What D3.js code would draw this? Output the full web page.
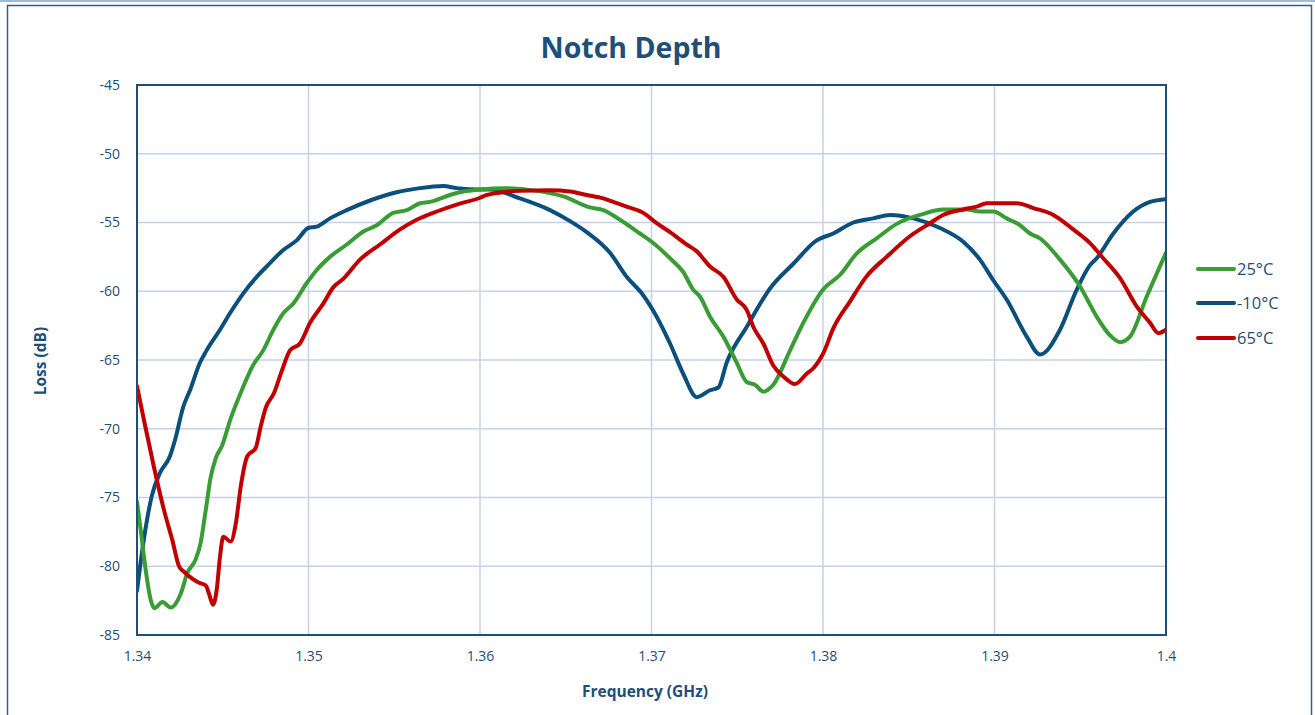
<!DOCTYPE html>
<html>
<head>
<meta charset="utf-8">
<script src="https://cdn.jsdelivr.net/npm/d3@7/dist/d3.min.js"></script>
<style>
  html, body { margin: 0; padding: 0; background: #fff; }
  svg { display: block; }
  text { font-family: "Open Sans", "Noto Sans", "DejaVu Sans", sans-serif; }
</style>
</head>
<body>
<svg id="chart" width="1315" height="715"></svg>
<script>
// ---------- data ----------
const xTicks = [1.34, 1.35, 1.36, 1.37, 1.38, 1.39, 1.4];
const xTickLabels = ["1.34", "1.35", "1.36", "1.37", "1.38", "1.39", "1.4"];
const yTicks = [-45, -50, -55, -60, -65, -70, -75, -80, -85];
const yTickLabels = ["-45", "-50", "-55", "-60", "-65", "-70", "-75", "-80", "-85"];
const seriesNames = ["25°C", "-10°C", "65°C"];
const seriesColors = ["#3a9c35", "#0b4f7c", "#c00000"];

const freq25 = [1.34, 1.34022, 1.34051, 1.3408, 1.34103, 1.34148, 1.34197, 1.34255, 1.34293, 1.34342, 1.34371, 1.34401, 1.3443, 1.34459, 1.34497, 1.34545, 1.34601, 1.34676, 1.34736, 1.34795, 1.34853, 1.34911, 1.3499, 1.35048, 1.35125, 1.35223, 1.3532, 1.35398, 1.35494, 1.35573, 1.3565, 1.35708, 1.35825, 1.35903, 1.36, 1.36136, 1.36331, 1.36486, 1.36641, 1.36719, 1.36816, 1.36933, 1.37001, 1.37108, 1.37185, 1.37244, 1.37283, 1.37341, 1.37419, 1.37497, 1.37555, 1.37603, 1.37652, 1.3771, 1.37808, 1.37885, 1.38002, 1.381, 1.38197, 1.38313, 1.3843, 1.38566, 1.38701, 1.38838, 1.38915, 1.38993, 1.39071, 1.39149, 1.39207, 1.39265, 1.39382, 1.39499, 1.39596, 1.39673, 1.39732, 1.3979, 1.39887, 1.4];
const loss25 = [-75.3, -77.4, -80.3, -82.45, -83.05, -82.6, -83.0, -82.0, -80.5, -79.5, -78.3, -75.9, -73.5, -72.15, -71.2, -69.3, -67.5, -65.4, -64.3, -62.8, -61.6, -60.9, -59.4, -58.45, -57.5, -56.6, -55.65, -55.2, -54.3, -54.1, -53.6, -53.5, -53.0, -52.75, -52.6, -52.5, -52.7, -53.1, -53.9, -54.1, -54.8, -55.8, -56.4, -57.6, -58.6, -59.9, -60.4, -61.85, -63.3, -65.2, -66.6, -66.8, -67.3, -66.8, -64.3, -62.3, -59.85, -58.8, -57.25, -56.15, -55.1, -54.45, -54.05, -54.05, -54.2, -54.2, -54.7, -55.2, -55.8, -56.15, -57.7, -59.65, -61.85, -63.2, -63.7, -63.3, -60.4, -57.2];

const freqM10 = [1.34, 1.34037, 1.34086, 1.34134, 1.34192, 1.34222, 1.3427, 1.34309, 1.34367, 1.34406, 1.34484, 1.34542, 1.3462, 1.34698, 1.34756, 1.34853, 1.34931, 1.34999, 1.35048, 1.35125, 1.35223, 1.35359, 1.35514, 1.3565, 1.35786, 1.35864, 1.36, 1.36058, 1.36233, 1.36408, 1.36525, 1.36622, 1.36758, 1.36855, 1.36943, 1.3703, 1.37108, 1.37185, 1.37264, 1.37341, 1.3739, 1.37438, 1.37555, 1.37691, 1.37827, 1.37963, 1.3806, 1.38177, 1.38293, 1.38391, 1.38527, 1.38682, 1.38818, 1.38915, 1.38993, 1.39071, 1.39188, 1.39265, 1.39382, 1.39479, 1.39557, 1.39596, 1.39693, 1.39809, 1.39907, 1.4];
const lossM10 = [-81.8, -78.3, -74.9, -73.2, -72.0, -70.8, -68.4, -67.2, -65.2, -64.3, -62.8, -61.6, -60.15, -58.95, -58.2, -57.0, -56.3, -55.4, -55.3, -54.7, -54.1, -53.4, -52.8, -52.5, -52.35, -52.5, -52.6, -52.6, -53.25, -54.1, -54.9, -55.7, -57.2, -58.95, -60.15, -61.85, -63.8, -66.0, -67.7, -67.2, -67.0, -65.2, -62.6, -59.8, -58.0, -56.3, -55.8, -55.0, -54.7, -54.45, -54.7, -55.4, -56.4, -57.7, -59.2, -60.6, -63.3, -64.6, -62.8, -59.9, -58.1, -57.6, -55.8, -54.2, -53.5, -53.3];

const freq65 = [1.34, 1.34041, 1.34099, 1.34157, 1.34206, 1.34245, 1.34274, 1.34322, 1.34362, 1.34401, 1.3442, 1.34443, 1.34465, 1.34484, 1.34503, 1.34546, 1.34576, 1.34605, 1.34643, 1.34692, 1.34721, 1.3475, 1.34799, 1.34847, 1.34892, 1.3495, 1.35009, 1.35086, 1.35145, 1.35203, 1.353, 1.35417, 1.35534, 1.35631, 1.35748, 1.35864, 1.36, 1.36039, 1.36233, 1.36408, 1.36525, 1.36622, 1.36719, 1.36777, 1.36855, 1.36952, 1.3703, 1.37108, 1.37205, 1.37264, 1.37341, 1.37419, 1.37497, 1.37555, 1.37594, 1.37652, 1.3771, 1.37769, 1.37837, 1.37905, 1.37944, 1.38002, 1.3806, 1.38157, 1.38255, 1.38371, 1.38507, 1.38624, 1.38701, 1.38818, 1.38896, 1.38955, 1.3913, 1.39226, 1.39343, 1.39459, 1.39557, 1.39634, 1.39732, 1.39829, 1.39907, 1.39955, 1.4];
const loss65 = [-66.9, -69.4, -72.8, -75.9, -78.1, -80.0, -80.4, -80.9, -81.2, -81.4, -82.0, -82.8, -81.7, -79.3, -77.85, -78.2, -76.9, -74.2, -72.0, -71.4, -69.85, -68.5, -67.4, -65.7, -64.3, -63.8, -62.3, -60.9, -59.7, -59.1, -57.7, -56.6, -55.5, -54.8, -54.2, -53.7, -53.2, -53.0, -52.7, -52.65, -52.75, -53.0, -53.25, -53.5, -53.85, -54.3, -55.05, -55.7, -56.6, -57.1, -58.2, -58.95, -60.6, -61.35, -62.6, -63.8, -65.4, -66.2, -66.75, -66.0, -65.6, -64.5, -62.7, -60.75, -58.9, -57.5, -56.0, -55.05, -54.45, -54.05, -53.85, -53.6, -53.6, -53.95, -54.45, -55.5, -56.5, -57.6, -59.05, -61.1, -62.3, -63.05, -62.8];

const seriesFreqs = [freq25, freqM10, freq65];
const seriesLosses = [loss25, lossM10, loss65];

// ---------- layout ----------
const svg = d3.select("#chart");
const W = 1315, H = 715;
const plot = { left: 137, right: 1166, top: 85, bottom: 635 };
const textColor = "#1f4e79";

// outer frame
svg.append("line").attr("x1", 0).attr("x2", W).attr("y1", 1).attr("y2", 1)
  .attr("stroke", "#7fa3c4").attr("stroke-width", 1.5);
svg.append("rect").attr("x", 7.5).attr("y", 5.5).attr("width", 1304).attr("height", 730)
  .attr("fill", "#fff").attr("stroke", "#2e5f8a").attr("stroke-width", 1.5);

const x = d3.scaleLinear().domain([1.34, 1.4]).range([plot.left, plot.right]);
const y = d3.scaleLinear().domain([-85, -45]).range([plot.bottom, plot.top]);

// gridlines
const grid = svg.append("g");
grid.selectAll("line.v").data(xTicks.slice(1, -1)).join("line")
  .attr("x1", d => x(d)).attr("x2", d => x(d))
  .attr("y1", plot.top).attr("y2", plot.bottom)
  .attr("stroke", "#c3d3e9").attr("stroke-width", 1.5);
grid.selectAll("line.h").data(yTicks.slice(1, -1)).join("line")
  .attr("x1", plot.left).attr("x2", plot.right)
  .attr("y1", d => y(d)).attr("y2", d => y(d))
  .attr("stroke", "#c3d3e9").attr("stroke-width", 1.5);

// axes (labels only)
const xAxis = d3.axisBottom(x).tickValues(xTicks)
  .tickFormat((d, i) => xTickLabels[i]).tickSize(0).tickPadding(16);
const gx = svg.append("g").attr("transform", `translate(0,${plot.bottom})`).call(xAxis);
gx.select(".domain").remove();
gx.selectAll("text").attr("fill", textColor).style("font-size", "14px");

const yAxis = d3.axisLeft(y).tickValues(yTicks).tickFormat((d, i) => yTickLabels[i]).tickSize(0).tickPadding(17);
const gy = svg.append("g").attr("transform", `translate(${plot.left},0)`).call(yAxis);
gy.select(".domain").remove();
gy.selectAll("text").attr("fill", textColor).style("font-size", "14px");

// series
const line = d3.line().x(d => x(d[0])).y(d => y(d[1])).curve(d3.curveMonotoneX);
const clip = svg.append("clipPath").attr("id", "clip").append("rect")
  .attr("x", plot.left).attr("y", plot.top - 2)
  .attr("width", plot.right - plot.left).attr("height", plot.bottom - plot.top + 4);
const sg = svg.append("g").attr("clip-path", "url(#clip)");
[1, 0, 2].forEach(i => {
  const pts = seriesFreqs[i].map((f, k) => [f, seriesLosses[i][k]]);
  sg.append("path").datum(pts).attr("d", line)
    .attr("fill", "none").attr("stroke", seriesColors[i])
    .attr("stroke-width", 4).attr("stroke-linejoin", "round").attr("stroke-linecap", "round");
});

// plot border
svg.append("rect").attr("x", plot.left).attr("y", plot.top)
  .attr("width", plot.right - plot.left).attr("height", plot.bottom - plot.top)
  .attr("fill", "none").attr("stroke", "#1f4e79").attr("stroke-width", 2);

// title
svg.append("text").attr("x", 631).attr("y", 58).attr("text-anchor", "middle")
  .attr("fill", textColor).style("font-size", "28.5px").style("font-weight", "bold")
  .text("Notch Depth");

// axis titles
svg.append("text").attr("x", 645).attr("y", 697).attr("text-anchor", "middle")
  .attr("fill", textColor).style("font-size", "15.5px").style("font-weight", "bold")
  .text("Frequency (GHz)");
svg.append("text").attr("transform", "translate(46,361) rotate(-90)").attr("text-anchor", "middle")
  .attr("fill", textColor).style("font-size", "15.5px").style("font-weight", "bold")
  .text("Loss (dB)");

// legend
const legY = [269, 303, 338];
const leg = svg.append("g");
seriesNames.forEach((n, i) => {
  leg.append("line").attr("x1", 1198).attr("x2", 1234).attr("y1", legY[i]).attr("y2", legY[i])
    .attr("stroke", seriesColors[i]).attr("stroke-width", 4).attr("stroke-linecap", "round");
  leg.append("text").attr("x", 1237).attr("y", legY[i] + 6)
    .attr("fill", textColor).style("font-size", "16.5px").text(n);
});
</script>
</body>
</html>
